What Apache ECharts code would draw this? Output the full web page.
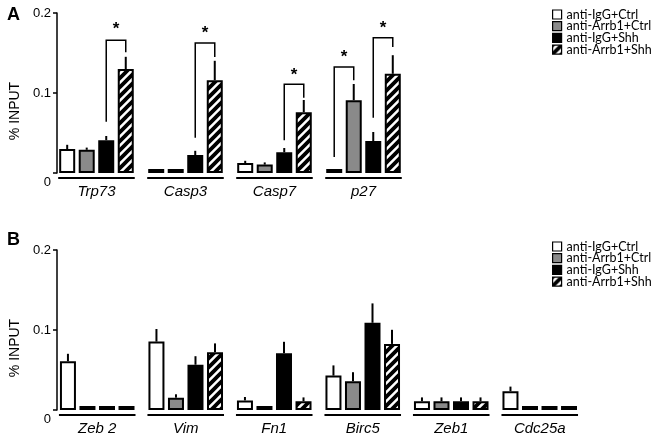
<!DOCTYPE html>
<html><head><meta charset="utf-8">
<script src="https://cdn.jsdelivr.net/npm/echarts@6/dist/echarts.min.js"></script>
<style>html,body{margin:0;padding:0;background:#fff}#c{width:658px;height:436px}</style>
</head><body><div id="c"></div>
<script>
// ---- data ----
const seriesNames = ['anti-IgG+Ctrl', 'anti-Arrb1+Ctrl', 'anti-IgG+Shh', 'anti-Arrb1+Shh'];

const catsA = ['Trp73', 'Casp3', 'Casp7', 'p27'];
const aIgGCtrl    = [0.030, 0.002, 0.0125, 0.002];
const aArrbCtrl   = [0.029, 0.002, 0.0105, 0.091];
const aIgGShh     = [0.041, 0.0225, 0.026, 0.040];
const aArrbShh    = [0.130, 0.116, 0.076, 0.124];
const aIgGCtrlErr  = [0.004, 0, 0.0015, 0];
const aArrbCtrlErr = [0.0015, 0, 0.0015, 0.019];
const aIgGShhErr   = [0.004, 0.004, 0.004, 0.010];
const aArrbShhErr  = [0.014, 0.023, 0.014, 0.022];
// significance brackets: [category, fromSeries, toSeries, leftLegBottom, top, rightLegBottom, starLevel]
const aBrackets = [
  [0, 2, 3, 0.064, 0.166, 0.151, 0.179],
  [1, 2, 3, 0.044, 0.1625, 0.145, 0.175],
  [2, 2, 3, 0.041, 0.111, 0.094, 0.1225],
  [3, 0, 1, 0.020, 0.1325, 0.116, 0.145],
  [3, 2, 3, 0.069, 0.169, 0.1575, 0.181]
];

const catsB = ['Zeb 2', 'Vim', 'Fn1', 'Birc5', 'Zeb1', 'Cdc25a'];
const bIgGCtrl    = [0.061, 0.0855, 0.012, 0.043, 0.011, 0.0235];
const bArrbCtrl   = [0.002, 0.0154, 0.002, 0.036, 0.011, 0.002];
const bIgGShh     = [0.002, 0.0566, 0.071, 0.109, 0.011, 0.002];
const bArrbShh    = [0.002, 0.0723, 0.011, 0.0826, 0.011, 0.002];
const bIgGCtrlErr  = [0.008, 0.0145, 0.003, 0.0115, 0.0035, 0.0045];
const bArrbCtrlErr = [0, 0.003, 0, 0.010, 0.0035, 0];
const bIgGShhErr   = [0, 0.0094, 0.013, 0.023, 0.0035, 0];
const bArrbShhErr  = [0, 0.0097, 0.0035, 0.0164, 0.0035, 0];

const yTicks = [0, 0.1, 0.2];

// ---- styles ----
const BAR_W = 16, GAP_PCT = 0.22;
function barOffset(s) {
  const gap = BAR_W * GAP_PCT;
  const total = 4 * BAR_W + 3 * gap;
  return -total / 2 + s * (BAR_W + gap) + BAR_W / 2;
}
function makeHatch() {
  const n = 9;
  const cv = document.createElement('canvas');
  cv.width = n; cv.height = n;
  const ctx = cv.getContext('2d');
  ctx.fillStyle = '#fff'; ctx.fillRect(0, 0, n, n);
  ctx.strokeStyle = '#000'; ctx.lineWidth = 3.8;
  ctx.beginPath();
  ctx.moveTo(-n, n); ctx.lineTo(n, -n);
  ctx.moveTo(0, 2 * n); ctx.lineTo(2 * n, 0);
  ctx.moveTo(0, n); ctx.lineTo(n, 0);
  ctx.stroke();
  return cv;
}
const fills = ['#ffffff', '#8a8a8a', '#000000', { image: makeHatch(), repeat: 'repeat' }];
const FONT = 'Liberation Sans, Arial, sans-serif';

const panels = [
  { cats: catsA, vals: [aIgGCtrl, aArrbCtrl, aIgGShh, aArrbShh], errs: [aIgGCtrlErr, aArrbCtrlErr, aIgGShhErr, aArrbShhErr] },
  { cats: catsB, vals: [bIgGCtrl, bArrbCtrl, bIgGShh, bArrbShh], errs: [bIgGCtrlErr, bArrbCtrlErr, bIgGShhErr, bArrbShhErr] }
];

const series = [];
panels.forEach((p, pi) => {
  p.vals.forEach((v, si) => {
    series.push({
      type: 'bar', name: seriesNames[si], xAxisIndex: pi, yAxisIndex: pi,
      data: v, barWidth: BAR_W, barGap: (GAP_PCT * 100) + '%', barMinHeight: 4,
      itemStyle: { color: fills[si], borderColor: '#000', borderWidth: 2 },
      emphasis: { disabled: true }, animation: false
    });
  });
  const errData = [];
  p.vals.forEach((v, si) => v.forEach((val, ci) => {
    if (p.errs[si][ci] > 0) errData.push([ci, si, val, p.errs[si][ci]]);
  }));
  series.push({
    type: 'custom', xAxisIndex: pi, yAxisIndex: pi, data: errData, encode: { x: 0, y: 2 },
    clip: false, silent: true, animation: false, z: 3,
    renderItem: (params, api) => {
      const c = api.value(0), s = api.value(1), v = api.value(2), e = api.value(3);
      const p0 = api.coord([c, v]), p1 = api.coord([c, v + e]);
      const x = p0[0] + barOffset(s);
      return { type: 'line', shape: { x1: x, y1: p0[1], x2: x, y2: p1[1] - 1 }, style: { stroke: '#000', lineWidth: 2 } };
    }
  });
  series.push({
    type: 'custom', xAxisIndex: pi, yAxisIndex: pi, data: p.cats.map((_, ci) => [ci, 0]), encode: { x: 0, y: 1 },
    clip: false, silent: true, animation: false,
    renderItem: (params, api) => {
      const c = api.value(0);
      const p0 = api.coord([c, 0]);
      const half = -barOffset(0) + BAR_W / 2 + 1;
      return { type: 'line', shape: { x1: p0[0] - half, y1: p0[1] + 5, x2: p0[0] + half, y2: p0[1] + 5 }, style: { stroke: '#000', lineWidth: 2 } };
    }
  });
});
series.push({
  type: 'custom', xAxisIndex: 0, yAxisIndex: 0, data: aBrackets, encode: { x: 0, y: 4 },
  clip: false, silent: true, animation: false,
  renderItem: (params, api) => {
    const c = api.value(0), s1 = api.value(1), s2 = api.value(2);
    const base = api.coord([c, 0])[0];
    const xL = base + barOffset(s1), xR = base + barOffset(s2);
    const yLB = api.coord([c, api.value(3)])[1];
    const yT = api.coord([c, api.value(4)])[1];
    const yRB = api.coord([c, api.value(5)])[1];
    const yS = api.coord([c, api.value(6)])[1];
    return {
      type: 'group', children: [
        { type: 'polyline', shape: { points: [[xL, yLB], [xL, yT], [xR, yT], [xR, yRB]] }, style: { stroke: '#000', lineWidth: 1.5, fill: null } },
        { type: 'text', x: (xL + xR) / 2, y: yS, style: { text: '*', font: 'bold 17px ' + FONT, fill: '#000', align: 'center', verticalAlign: 'middle' } }
      ]
    };
  }
});

function yAxis(gi, off) {
  return {
    type: 'value', gridIndex: gi, min: yTicks[0], max: yTicks[yTicks.length - 1], interval: yTicks[1] - yTicks[0],
    offset: off,
    axisLine: { show: true, lineStyle: { color: '#000', width: 1.5 } },
    axisTick: { show: true, length: 4, lineStyle: { color: '#000', width: 1.5 } },
    splitLine: { show: false },
    axisLabel: {
      color: '#000', fontSize: 13, fontFamily: FONT, margin: 6,
      formatter: v => v === 0 ? '{z|0}' : v.toFixed(1),
      rich: { z: { color: '#000', fontSize: 13, fontFamily: FONT, padding: [18, 0, 0, 0] } }
    },
    name: '% INPUT', nameLocation: 'middle', nameGap: 31,
    nameTextStyle: { color: '#000', fontSize: 14, fontFamily: FONT, padding: [0, 36, 0, 0] }
  };
}
function xAxis(gi, cats) {
  return {
    type: 'category', gridIndex: gi, data: cats,
    axisLine: { show: false }, axisTick: { show: false },
    axisLabel: { interval: 0, color: '#000', fontSize: 15, fontStyle: 'italic', fontFamily: FONT, margin: 11 }
  };
}
function legend(top) {
  return {
    data: seriesNames, orient: 'vertical', left: 552, top: top, icon: 'rect',
    itemWidth: 9, itemHeight: 9, itemGap: -1.3, selectedMode: false, padding: 0,
    textStyle: { color: '#000', fontSize: 12.5, lineHeight: 11.7, fontFamily: 'Lato, sans-serif' },
    itemStyle: { borderColor: '#000', borderWidth: 1.2 }
  };
}

const chart = echarts.init(document.getElementById('c'), null, { renderer: 'canvas' });
chart.setOption({
  animation: false,
  backgroundColor: '#fff',
  title: [
    { text: 'A', left: 2, top: 1, textStyle: { fontSize: 18, fontWeight: 'bold', fontFamily: FONT, color: '#000' } },
    { text: 'B', left: 2, top: 226, textStyle: { fontSize: 18, fontWeight: 'bold', fontFamily: FONT, color: '#000' } }
  ],
  legend: [legend(8), legend(240)],
  grid: [
    { left: 48, top: 13, width: 360, height: 160 },
    { left: 49, top: 250, width: 535, height: 160 }
  ],
  xAxis: [xAxis(0, catsA), xAxis(1, catsB)],
  yAxis: [yAxis(0, -5), yAxis(1, -4)],
  series: series
});
</script></body></html>
